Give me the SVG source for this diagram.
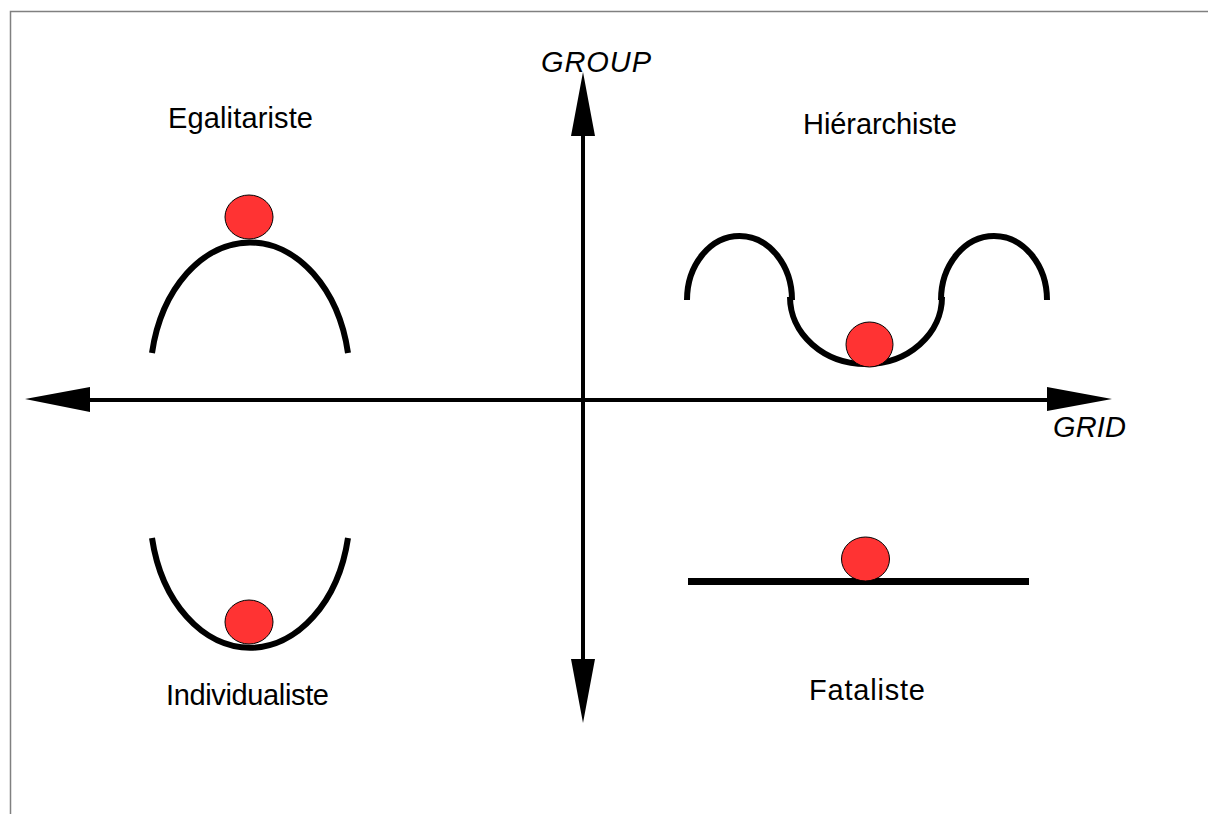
<svg xmlns="http://www.w3.org/2000/svg" width="1208" height="814" viewBox="0 0 1208 814">
<style>
.lbl{font-family:"Liberation Sans",Arial,sans-serif;font-size:29px;fill:#000}
.ax{font-family:"Liberation Sans",Arial,sans-serif;font-size:29px;font-style:italic;fill:#000}
.curve{fill:none;stroke:#000;stroke-width:6}
.ball{fill:#ff3333;stroke:#000;stroke-width:1}
.axis{stroke:#000;stroke-width:4;fill:none}
.head{fill:#000}
</style>
<rect x="10.5" y="11.5" width="1300" height="900" fill="#fff" stroke="#808080" stroke-width="1.5"/>
<g id="connectors">
<line class="axis" x1="583" y1="130" x2="583" y2="665"/>
<polygon class="head" points="583,72 571,136 595,136"/>
<polygon class="head" points="583,723 571,659 595,659"/>
<line class="axis" x1="85" y1="400" x2="1052" y2="400"/>
<polygon class="head" points="25,399 90,387 90,412"/>
<polygon class="head" points="1112,399 1047,387 1047,411"/>
</g>
<g id="axis-group"><text class="ax" x="541" y="72" textLength="110" lengthAdjust="spacing">GROUP</text></g>
<g id="axis-grid"><text class="ax" x="1053" y="437" textLength="73" lengthAdjust="spacing">GRID</text></g>
<g id="egalitariste">
<text class="lbl" x="168" y="128" textLength="145" lengthAdjust="spacing">Egalitariste</text>
<path class="curve" d="M152,353 A100,138 0 0 1 348,353"/>
<ellipse class="ball" cx="249" cy="217" rx="24" ry="22"/>
</g>
<g id="hierarchiste">
<text class="lbl" x="803" y="134" textLength="154" lengthAdjust="spacing">Hiérarchiste</text>
<path class="curve" d="M687,300 A52.5,64 0 0 1 792,300"/>
<path class="curve" d="M790,297 A76,67 0 0 0 942,297"/>
<path class="curve" d="M941,300 A53,64 0 0 1 1047,300"/>
<ellipse class="ball" cx="869.5" cy="344.5" rx="23.5" ry="22.5"/>
</g>
<g id="individualiste">
<text class="lbl" x="166" y="705" textLength="163" lengthAdjust="spacing">Individualiste</text>
<path class="curve" d="M152,538 A100,137 0 0 0 348,538"/>
<ellipse class="ball" cx="249" cy="622" rx="24" ry="22"/>
</g>
<g id="fataliste">
<text class="lbl" x="809" y="700" textLength="116" lengthAdjust="spacing">Fataliste</text>
<line x1="688" y1="581.5" x2="1029" y2="581.5" stroke="#000" stroke-width="7"/>
<ellipse class="ball" cx="865.5" cy="559" rx="24" ry="22"/>
</g>
</svg>
